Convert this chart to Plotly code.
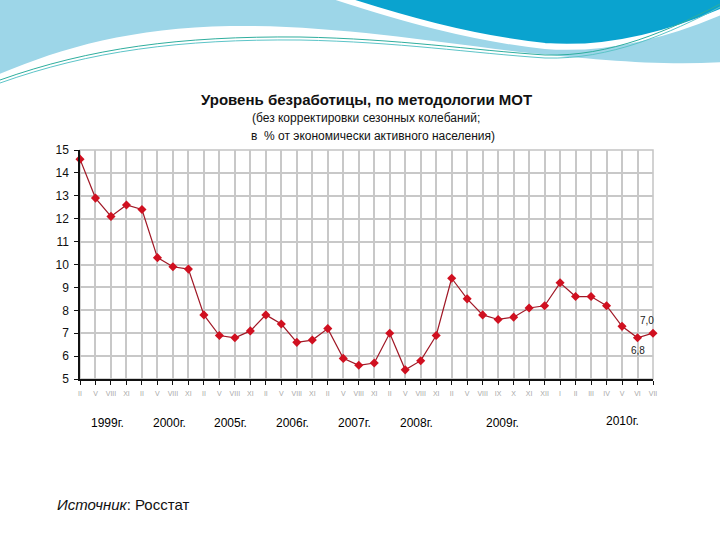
import plotly.graph_objects as go

# ---- data ----
years = ["1999г.", "2000г.", "2005г.", "2006г.", "2007г.", "2008г.", "2009г.", "2010г."]
periods = (
    ["II", "V", "VIII", "XI"] * 6
    + ["II", "V", "VIII", "IX", "X", "XI", "XII"]
    + ["I", "II", "III", "IV", "V", "VI", "VII"]
)
year_sizes = [4, 4, 4, 4, 4, 4, 7, 7]
unemployment = [
    14.6, 12.9, 12.1, 12.6,
    12.4, 10.3, 9.9, 9.8,
    7.8, 6.9, 6.8, 7.1,
    7.8, 7.4, 6.6, 6.7,
    7.2, 5.9, 5.6, 5.7,
    7.0, 5.4, 5.8, 6.9,
    9.4, 8.5, 7.8, 7.6, 7.7, 8.1, 8.2,
    9.2, 8.6, 8.6, 8.2, 7.3, 6.8, 7.0,
]
value_labels = {36: "6,8", 37: "7,0"}

x = list(range(len(unemployment)))

# plot area in pixels
L, R, T, B = 80, 653, 150, 379
W, H = 720, 540


def px(xp):
    return (xp - L) / (R - L)


def py(yp):
    return (B - yp) / (B - T)


fig = go.Figure()
fig.add_trace(go.Scatter(
    x=x, y=unemployment, mode="lines+markers",
    line=dict(color="#a01826", width=1.2),
    marker=dict(symbol="diamond", size=7, color="#d01020"),
    cliponaxis=False, showlegend=False, hoverinfo="x+y",
))

font_main = "Liberation Sans, Arial, sans-serif"

annotations = []
# year labels centred under their groups
start = 0
for i, (yr, n) in enumerate(zip(years, year_sizes)):
    center = start + (n - 1) / 2
    shift = 0.25 if i < 7 else 1.0
    annotations.append(dict(
        x=center + shift, y=5, xref="x", yref="y", text=yr, showarrow=False,
        yanchor="middle",
        yshift=-44 if i < 7 else -42, font=dict(size=12, color="#000", family=font_main),
    ))
    start += n

# value labels
for idx, txt in value_labels.items():
    annotations.append(dict(
        x=idx, y=unemployment[idx], xref="x", yref="y", text=txt, showarrow=False,
        yanchor="middle",
        xshift=-6 if idx == 37 else 0, yshift=13 if idx == 37 else -13,
        font=dict(size=10, color="#222", family=font_main),
    ))

# title lines
annotations += [
    dict(x=px(366), y=py(100), xref="paper", yref="paper", showarrow=False,
         yanchor="middle",
         text="<b>Уровень безработицы, по методологии МОТ</b>",
         font=dict(size=15, color="#111", family=font_main)),
    dict(x=px(366), y=py(118), xref="paper", yref="paper", showarrow=False,
         yanchor="middle",
         text="(без корректировки сезонных колебаний;",
         font=dict(size=12, color="#111", family=font_main)),
    dict(x=px(373), y=py(136), xref="paper", yref="paper", showarrow=False,
         yanchor="middle",
         text="в  % от экономически активного населения)",
         font=dict(size=12, color="#111", family=font_main)),
    dict(x=px(55), y=py(504), xref="paper", yref="paper", showarrow=False,
         xanchor="left", yanchor="middle", text="<i>Источник</i>: Росстат",
         font=dict(size=15, color="#111", family=font_main)),
]


def xp(v):
    return px(v)


def yp(v):
    return py(v)


shapes = [
    # light blue top band
    dict(type="path", xref="paper", yref="paper", layer="below",
         path=(f"M {xp(-5)},{yp(-5)} L {xp(725)},{yp(-5)} L {xp(725)},{yp(62)} "
               f"C {xp(660)},{yp(66)} {xp(600)},{yp(60)} {xp(520)},{yp(52)} "
               f"C {xp(420)},{yp(40)} {xp(330)},{yp(25)} {xp(230)},{yp(26)} "
               f"C {xp(130)},{yp(28)} {xp(60)},{yp(48)} {xp(-5)},{yp(76)} Z"),
         fillcolor="#9dd6e8", line=dict(width=0)),
    # darker blue blob with white edge
    dict(type="path", xref="paper", yref="paper", layer="below",
         path=(f"M {xp(330)},{yp(-5)} C {xp(400)},{yp(18)} {xp(470)},{yp(38)} {xp(545)},{yp(46)} "
               f"C {xp(610)},{yp(51)} {xp(670)},{yp(34)} {xp(725)},{yp(10)} L {xp(725)},{yp(-5)} Z"),
         fillcolor="#0aa3cf", line=dict(color="white", width=6)),
    # thin teal lines
    dict(type="path", xref="paper", yref="paper", layer="below",
         path=(f"M {xp(0)},{yp(80)} C {xp(90)},{yp(48)} {xp(180)},{yp(36)} {xp(300)},{yp(37)} "
               f"C {xp(400)},{yp(39)} {xp(470)},{yp(50)} {xp(545)},{yp(55)} "
               f"C {xp(610)},{yp(57)} {xp(670)},{yp(30)} {xp(720)},{yp(4)}"),
         line=dict(color="#2fae9e", width=1)),
    dict(type="path", xref="paper", yref="paper", layer="below",
         path=(f"M {xp(0)},{yp(83)} C {xp(90)},{yp(51)} {xp(180)},{yp(39)} {xp(300)},{yp(40)} "
               f"C {xp(400)},{yp(42)} {xp(470)},{yp(53)} {xp(545)},{yp(58)} "
               f"C {xp(610)},{yp(60)} {xp(670)},{yp(33)} {xp(720)},{yp(7)}"),
         line=dict(color="#5cc4c8", width=1)),
    # plot border (top/right)
    dict(type="rect", xref="paper", yref="paper", x0=0, y0=0, x1=1, y1=1,
         line=dict(color="#c4c4c4", width=1.5), layer="below"),
]

fig.update_layout(
    width=W, height=H,
    margin=dict(l=L, r=W - R, t=T, b=H - B),
    paper_bgcolor="white", plot_bgcolor="white",
    font=dict(family=font_main),
    annotations=annotations, shapes=shapes,
    xaxis=dict(
        range=[0, len(unemployment) - 1], tickvals=x, ticktext=periods,
        tickfont=dict(size=7, color="#a8a8a8"), ticks="outside", ticklen=4,
        tickcolor="#111", showline=True, linecolor="#111", linewidth=1.5,
        showgrid=True, gridcolor="#c8c8c8", gridwidth=1.5, zeroline=False,
        ticklabelstandoff=3, fixedrange=True,
    ),
    yaxis=dict(
        range=[5, 15], dtick=1, tickfont=dict(size=12, color="#111"),
        ticks="outside", ticklen=4, tickcolor="#111",
        showline=True, linecolor="#111", linewidth=1.5,
        showgrid=True, gridcolor="#c8c8c8", gridwidth=1.5, zeroline=False,
        ticklabelstandoff=3, fixedrange=True,
    ),
)

fig.write_html(
    "out.html",
    config={"displayModeBar": False},
    post_script="document.body.style.margin='0px';document.body.style.overflow='hidden';",
)
